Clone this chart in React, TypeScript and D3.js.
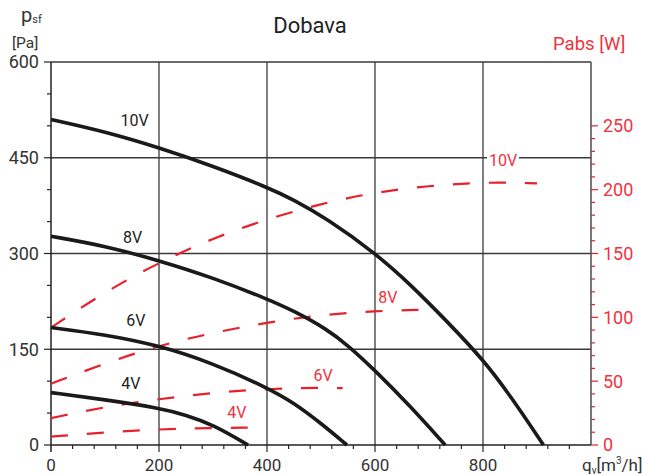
import React from "react";
import * as d3 from "d3";

// Pressure curves (Pa) vs flow q (m3/h)
const p10V: [number, number][] = [[0,510],[100,491],[200,466],[300,437],[400,404],[450,384],[510,355],[600,301],[665,252],[733,194],[800,134],[850,78],[912,0]];
const p8V: [number, number][] = [[0,327],[100,312],[200,289],[300,262],[400,229],[450,210],[510,182],[550,156],[600,117],[665,61],[730,0]];
const p6V: [number, number][] = [[0,184],[100,173],[200,156],[300,128],[400,90],[450,66],[500,34],[548,0]];
const p4V: [number, number][] = [[0,82],[100,71],[200,58],[250,47],[300,32],[365,0]];

// Absorbed power curves (W) vs flow
const w10V: [number, number][] = [[0,92],[100,120],[200,143],[300,162],[400,177],[500,189],[600,198],[700,203],[800,206],[900,205]];
const w8V: [number, number][] = [[0,48],[100,64],[200,78],[300,88],[400,96],[500,102],[600,105],[690,106]];
const w6V: [number, number][] = [[0,21],[100,30],[200,36],[300,41],[400,44],[500,45],[540,44.5]];
const w4V: [number, number][] = [[0,6.5],[100,10],[200,12.4],[300,13.3],[365,13.6]];

const xTicks = [0, 200, 400, 600, 800];
const xMinor = d3.range(0, 1001, 40);
const yTicks = [0, 150, 300, 450, 600];
const yMinor = d3.range(0, 601, 50);
const rTicks = [0, 50, 100, 150, 200, 250];
const rMinor = d3.range(0, 251, 10);

const pressureSeries = [
  { name: "10V", data: p10V, lx: 155, ly: 509 },
  { name: "8V", data: p8V, lx: 151, ly: 326 },
  { name: "6V", data: p6V, lx: 157, ly: 196 },
  { name: "4V", data: p4V, lx: 148, ly: 97 },
];
const powerSeries = [
  { name: "10V", data: w10V, lx: 837, ly: 223 },
  { name: "8V", data: w8V, lx: 624, ly: 116 },
  { name: "6V", data: w6V, lx: 504, ly: 55 },
  { name: "4V", data: w4V, lx: 344, ly: 26 },
];

const RED = "#e8202b";
const RED_TEXT = "#ee3340";
const GRID = "#3a3a3a";
const FONT = "Roboto, 'DejaVu Sans', sans-serif";

export default function App() {
  const x = d3.scaleLinear().domain([0, 1000]).range([51, 591]);
  const yL = d3.scaleLinear().domain([0, 600]).range([445, 62]);
  const yR = d3.scaleLinear().domain([0, 300]).range([445, 62]);

  const lineL = d3.line<[number, number]>().x(d => x(d[0])).y(d => yL(d[1])).curve(d3.curveBasis);
  const lineR = d3.line<[number, number]>().x(d => x(d[0])).y(d => yR(d[1])).curve(d3.curveBasis);

  return (
    <svg width={648} height={475} style={{ position: "absolute", left: 0, top: 0, background: "#fff" }} fontFamily={FONT}>
      <rect x={0} y={0} width={648} height={475} fill="#fff" />
      {/* grid */}
      {xTicks.filter(t => t > 0).map(t => (
        <line key={"gx" + t} x1={x(t)} x2={x(t)} y1={yL(600)} y2={452} stroke={GRID} strokeWidth={1.3} />
      ))}
      {yTicks.filter(t => t > 0 && t < 600).map(t => (
        <line key={"gy" + t} x1={x(0)} x2={x(1000)} y1={yL(t)} y2={yL(t)} stroke={GRID} strokeWidth={1.3} />
      ))}
      {/* frame */}
      <line x1={x(0)} x2={x(1000)} y1={yL(600)} y2={yL(600)} stroke={GRID} strokeWidth={1.3} />
      <line x1={x(1000)} x2={x(1000)} y1={yL(600)} y2={yL(0)} stroke="#555" strokeWidth={1.6} />
      <line x1={x(0)} x2={x(1000)} y1={yL(0)} y2={yL(0)} stroke="#222" strokeWidth={1.5} />
      <line x1={x(0)} x2={x(0)} y1={yL(600)} y2={452} stroke="#222" strokeWidth={1.5} />

      {/* bottom ticks */}
      {xMinor.filter(t => t % 200 !== 0).map(t => (
        <line key={"xm" + t} x1={x(t)} x2={x(t)} y1={yL(0)} y2={yL(0) + 4} stroke="#222" strokeWidth={1.2} />
      ))}
      {xTicks.map(t => (
        <text key={"xl" + t} x={x(t)} y={471} textAnchor="middle" fontSize={17} fill="#333">{t}</text>
      ))}
      {/* left ticks */}
      {yMinor.map(t => (
        <line key={"ym" + t} x1={x(0) - (t % 150 === 0 ? 7 : 4)} x2={x(0)} y1={yL(t)} y2={yL(t)} stroke="#222" strokeWidth={1.2} />
      ))}
      {yTicks.map(t => (
        <text key={"yl" + t} x={39} y={yL(t)} dy="0.36em" textAnchor="end" fontSize={18} fill="#333">{t}</text>
      ))}
      {/* right ticks */}
      {rMinor.map(t => (
        <line key={"rm" + t} x1={x(1000)} x2={x(1000) + (t % 50 === 0 ? 7 : 4)} y1={yR(t)} y2={yR(t)} stroke={RED} strokeWidth={1.2} />
      ))}
      {rTicks.map(t => (
        <text key={"rl" + t} x={603} y={yR(t)} dy="0.36em" textAnchor="start" fontSize={18} fill={RED_TEXT}>{t}</text>
      ))}

      {/* power curves */}
      {powerSeries.map(s => (
        <path key={"w" + s.name} d={lineR(s.data) || ""} fill="none" stroke={RED} strokeWidth={2.2} strokeDasharray="17,19" />
      ))}
      {/* pressure curves */}
      {pressureSeries.map(s => (
        <path key={"p" + s.name} d={lineL(s.data) || ""} fill="none" stroke="#1a1a1a" strokeWidth={3.6} strokeLinejoin="round" />
      ))}

      {/* labels */}
      {pressureSeries.map(s => (
        <text key={"pl" + s.name} x={x(s.lx)} y={yL(s.ly)} dy="0.36em" textAnchor="middle" fontSize={16} fill="#222">{s.name}</text>
      ))}
      {powerSeries.map(s => (
        <g key={"wl" + s.name}>
          {s.name === "10V" && <rect x={x(s.lx) - 16} y={yR(s.ly) - 10} width={32} height={20} fill="#fff" />}
          <text x={x(s.lx)} y={yR(s.ly)} dy="0.36em" textAnchor="middle" fontSize={16} fill={RED_TEXT}>{s.name}</text>
        </g>
      ))}

      {/* titles */}
      <text x={310} y={33} textAnchor="middle" fontSize={22} fill="#222">Dobava</text>
      <text x={21} y={22} fontSize={20} fill="#333">p<tspan fontSize={11} dy={1}>sf</tspan></text>
      <text x={12} y={48} fontSize={15.5} fill="#333">[Pa]</text>
      <text x={553} y={50} fontSize={18.5} fill={RED_TEXT}>Pabs [W]</text>
      <text x={582} y={471} fontSize={17} fill="#333">q<tspan fontSize={10} dy={3}>v</tspan><tspan dy={-3}>[m</tspan><tspan fontSize={10} dy={-7}>3</tspan><tspan dy={7}>/h]</tspan></text>
    </svg>
  );
}
